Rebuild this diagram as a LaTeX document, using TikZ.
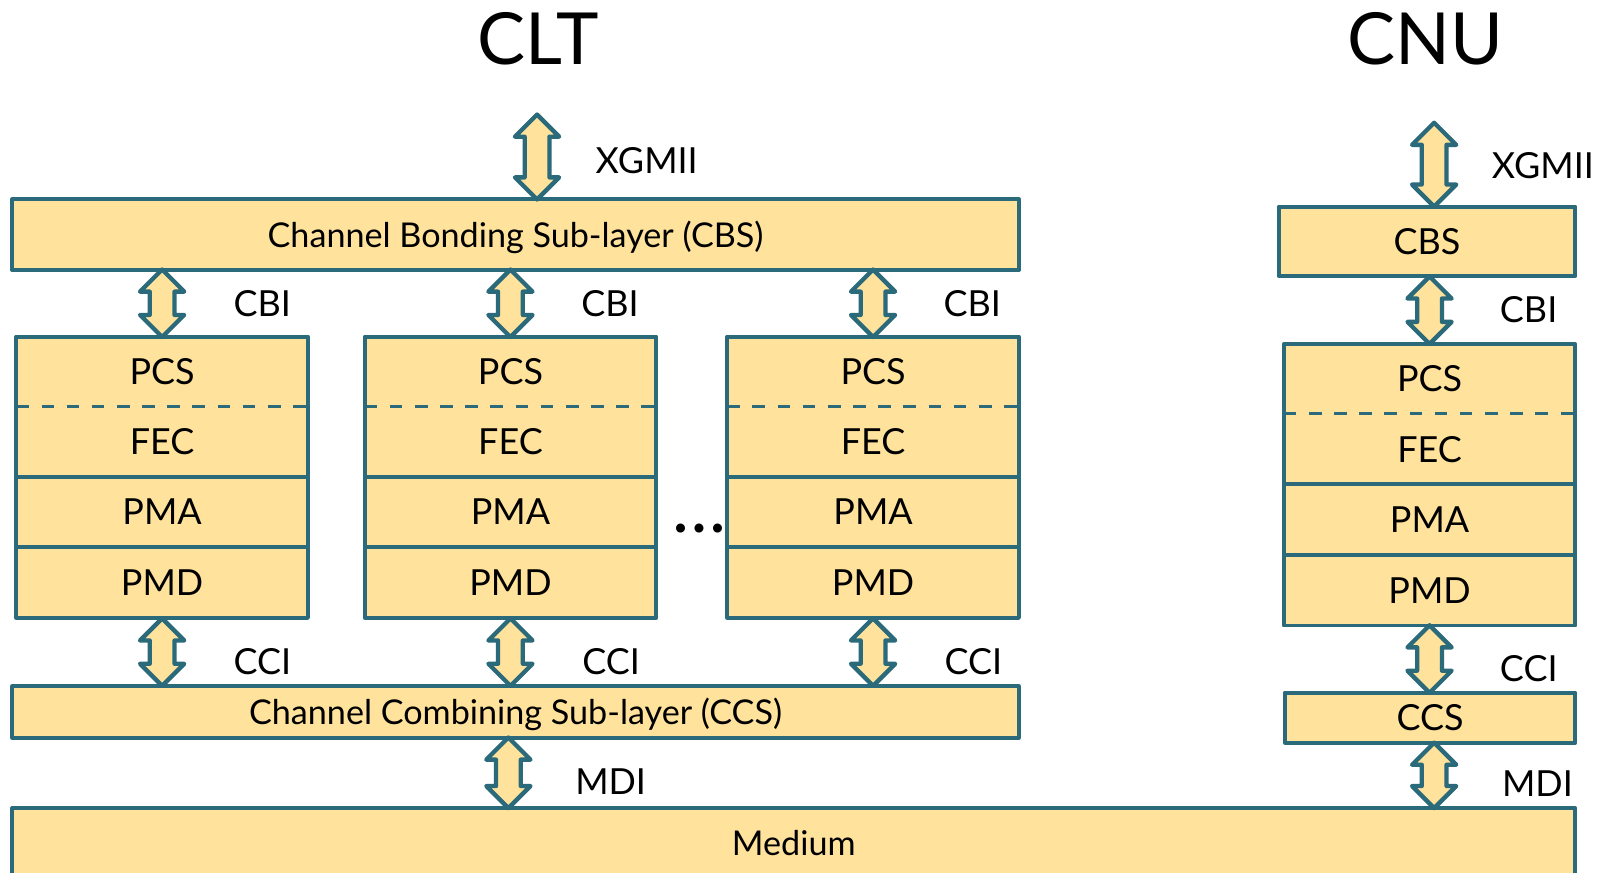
\documentclass[tikz,border=0pt]{standalone}
\usepackage{fontspec}
\setmainfont{Lato}
\usetikzlibrary{shapes.arrows,positioning}
\definecolor{layerfill}{RGB}{255,226,156}
\definecolor{layerline}{RGB}{42,106,122}
\begin{document}
\begin{tikzpicture}[x=0.02cm,y=-0.02cm, line join=round,
	layer/.style 2 args={draw=layerline, fill=layerfill, line width=2.2pt, inner sep=0pt, outer sep=0pt,
		minimum width=#1*\px, minimum height=#2*\px, font=\fontsize{20}{24}\selectfont, text height=14.4pt, text depth=0pt},
	wide/.style={font=\fontsize{19}{23}\selectfont, text height=13.7pt},
	dblarrow/.style={double arrow, rotate=90, draw=layerline, fill=layerfill, line width=2.4pt,
		inner xsep=0pt, inner ysep=0.2cm, double arrow head extend=0.19cm, minimum height=#1*\px},
	lbl/.style={anchor=west, inner sep=0pt, font=\fontsize{20}{24}\selectfont, text height=14.4pt, text depth=0pt},
	title/.style={inner sep=0pt, font=\fontsize{40}{48}\selectfont}]
	\def\px{0.02cm}
	\useasboundingbox (0,0) rectangle (1570,853.4);
	\node[title] (clt) at (526,38) {CLT};
	\node[title] (cnu) at (1393,38) {CNU};
	% CLT side
	\node[layer={984}{69}, wide] (cbs) at (504,229.5) {Channel Bonding Sub-layer (CBS)};
	\node[layer={984}{50}, wide] (ccs) at (504,696) {Channel Combining Sub-layer (CCS)};
	\node[layer={1528}{68}, wide] (medium) at (776,824) {Medium};
	% CNU side
	\node[layer={290}{68}] (cnucbs) at (1395,236) {CBS};
	\node[layer={284}{49}] (cnuccs) at (1398,701.5) {CCS};
	% stacks
	\foreach \c/\cx/\cy/\up/\down in {A/158.5/363/cbs/ccs, B/499/363/cbs/ccs, C/853.5/363/cbs/ccs, D/1397.5/370.5/cnucbs/cnuccs}{
		\node[layer={285}{68}, draw=none] (pcs\c) at (\cx,\cy) {PCS};
		\node[layer={285}{69}, draw=none, below=0pt of pcs\c] (fec\c) {FEC};
		\draw[layerline, line width=2.2pt] (pcs\c.north west) rectangle (fec\c.south east);
		\draw[layerline, line width=1.7pt, dash pattern=on 7pt off 7pt] (pcs\c.south west) -- (pcs\c.south east);
		\node[layer={285}{69}, below=0pt of fec\c] (pma\c) {PMA};
		\node[layer={285}{69}, below=0pt of pma\c] (pmd\c) {PMD};
		\path (\up.south -| pcs\c.north) -- node[dblarrow=66]{} (pcs\c.north);
		\path (pmd\c.south) -- node[dblarrow=66]{} (\down.north -| pmd\c.south);
	}
	\node[font=\fontsize{40}{40}\selectfont] (dots) at (684,517) {\dots};
	% interfaces
	\coordinate (xgmii) at (525,112);
	\path (xgmii) -- node[dblarrow=83]{} (xgmii |- cbs.north);
	\coordinate (cnuxgmii) at (1402,120);
	\path (cnuxgmii) -- node[dblarrow=82]{} (cnuxgmii |- cnucbs.north);
	\coordinate (mdi) at (497,0);
	\path (ccs.south -| mdi) -- node[dblarrow=69]{} (medium.north -| mdi);
	\coordinate (cnumdi) at (1402,0);
	\path (cnuccs.south -| cnumdi) -- node[dblarrow=64]{} (medium.north -| cnumdi);
	\node[lbl] (xgmiilbl) at (582,157) {XGMII};
	\node[lbl] (cbilblA) at (228,297) {CBI};
	\node[lbl] (cbilblB) at (568,297) {CBI};
	\node[lbl] (cbilblC) at (922,297) {CBI};
	\node[lbl] (ccilblA) at (228,647) {CCI};
	\node[lbl] (ccilblB) at (569,647) {CCI};
	\node[lbl] (ccilblC) at (923,647) {CCI};
	\node[lbl] (mdilbl) at (562,764) {MDI};
	\node[lbl] (cnuxgmiilbl) at (1458,162) {XGMII};
	\node[lbl] (cbilblD) at (1466,303) {CBI};
	\node[lbl] (ccilblD) at (1466,654) {CCI};
	\node[lbl] (cnumdilbl) at (1468,766) {MDI};
\end{tikzpicture}
\end{document}
